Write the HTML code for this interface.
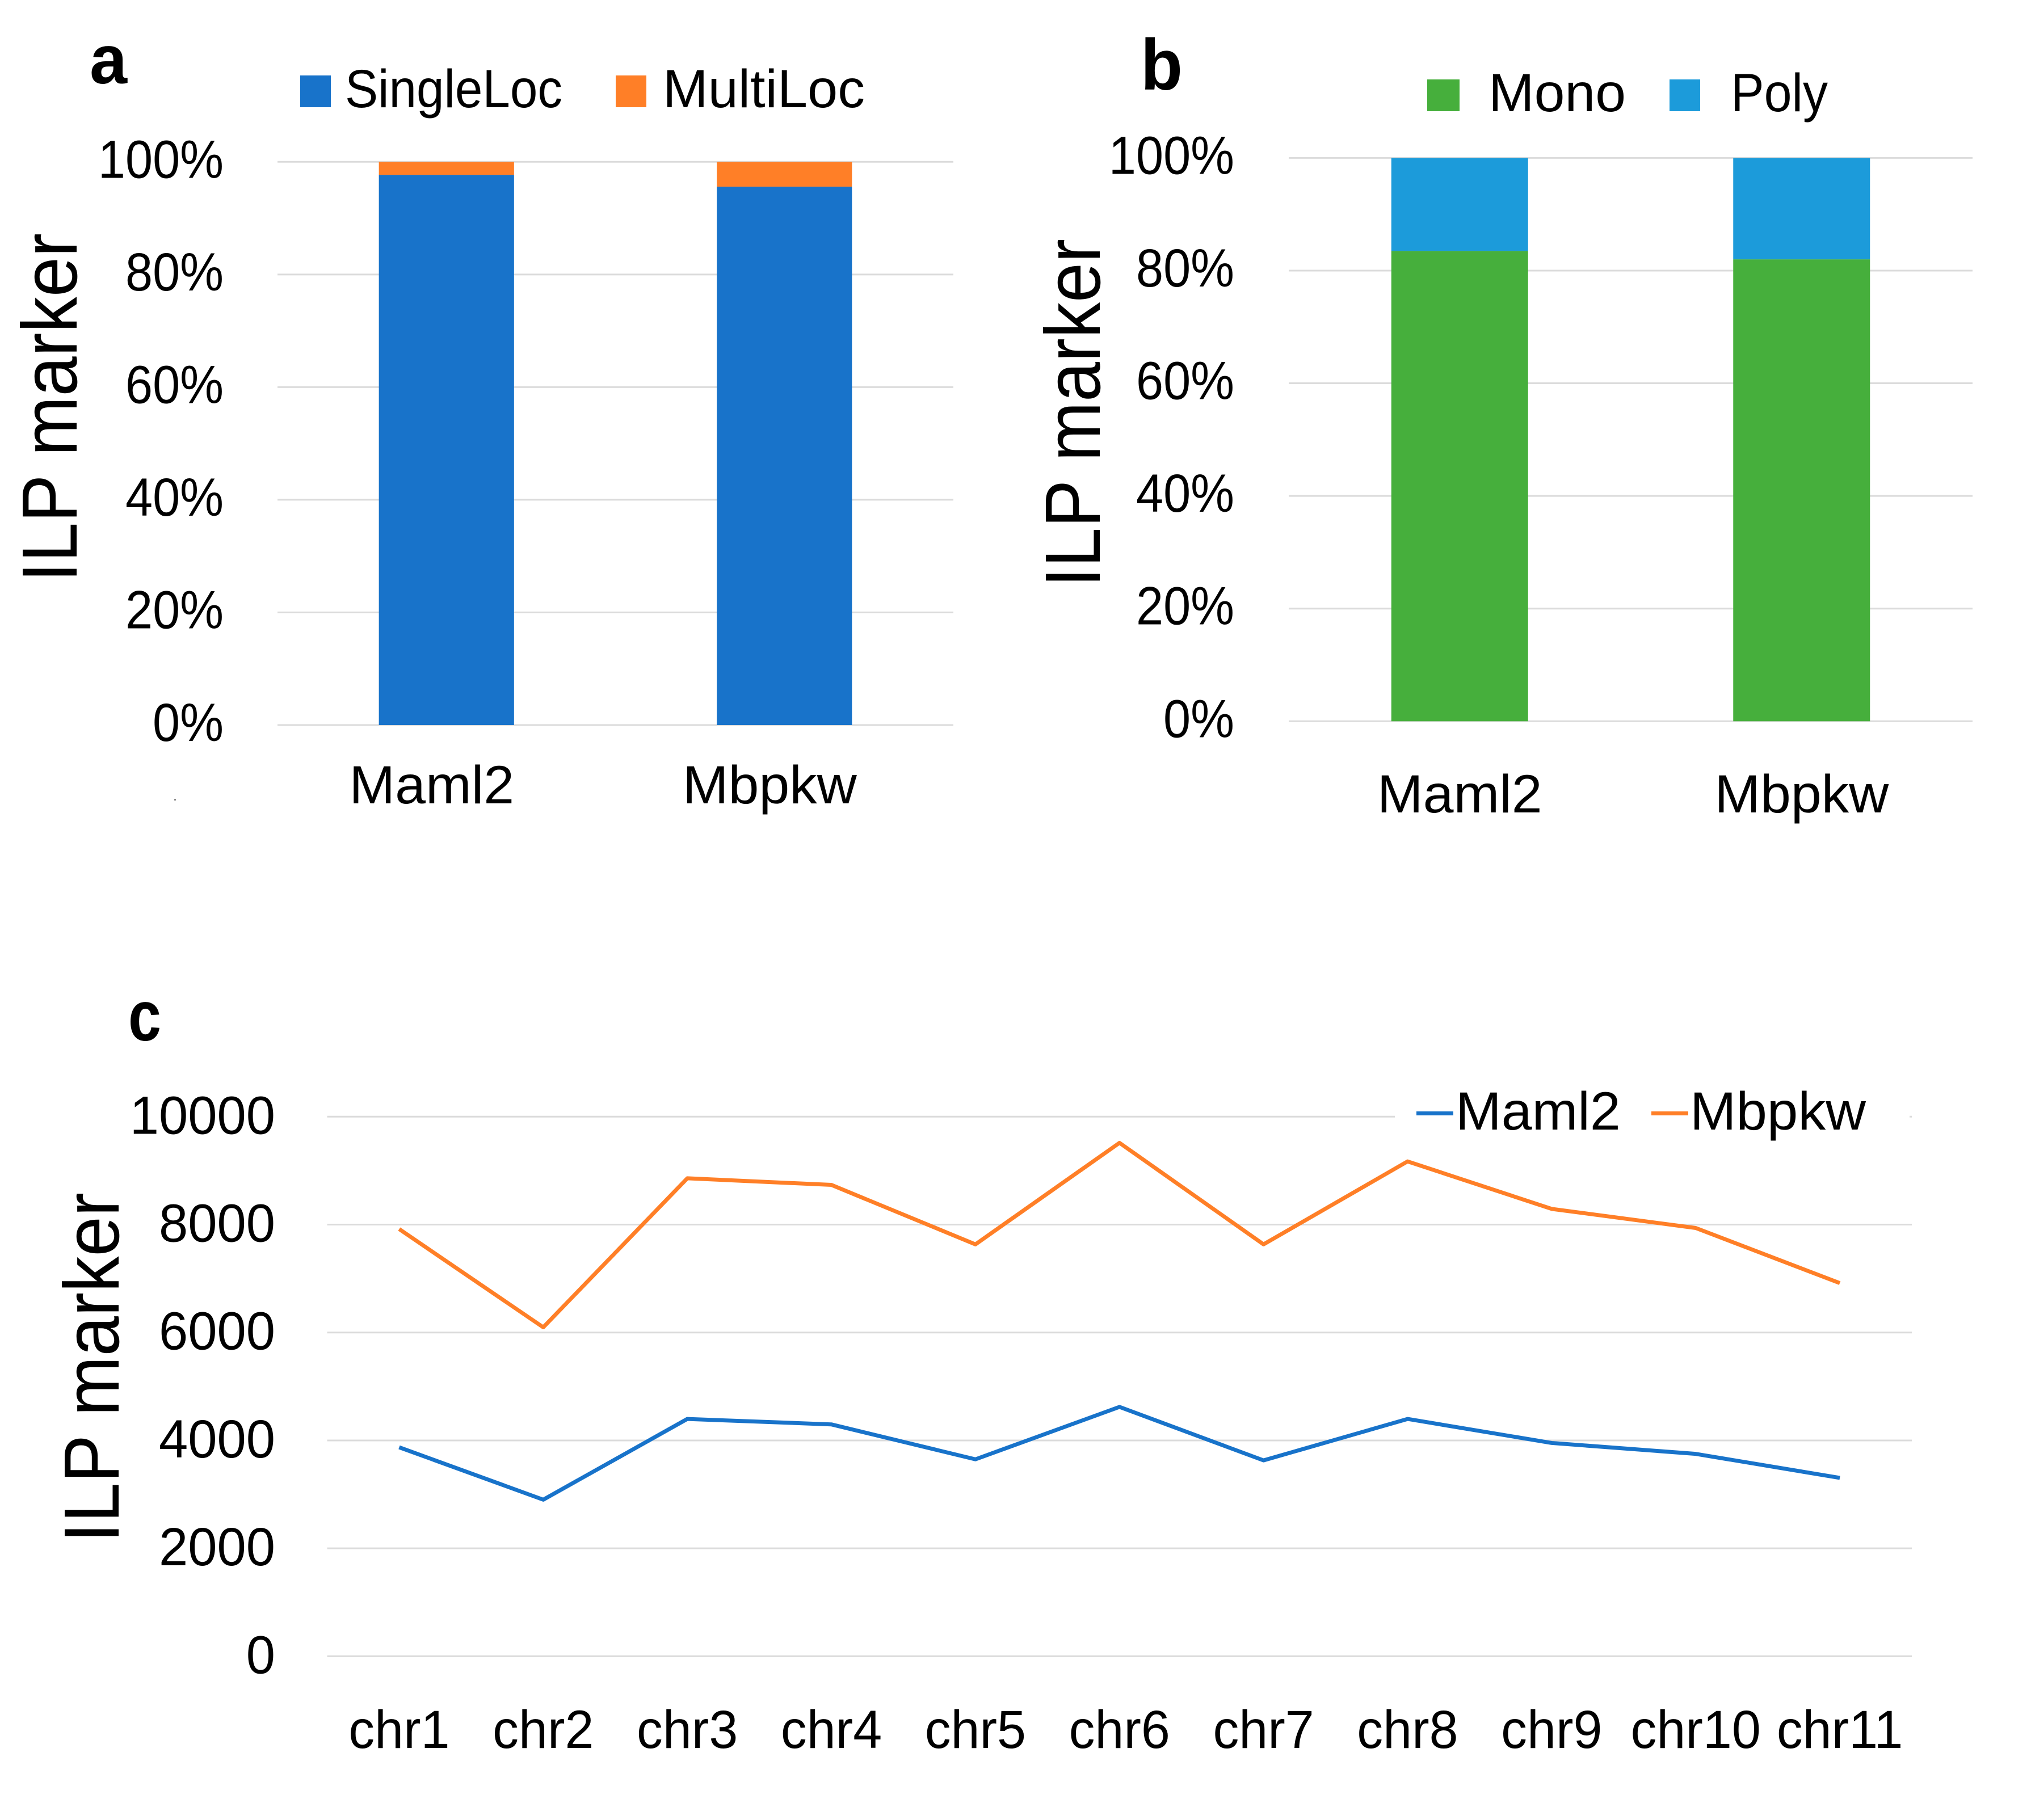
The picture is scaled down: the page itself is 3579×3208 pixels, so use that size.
<!DOCTYPE html>
<html lang="en">
<head>
<meta charset="utf-8">
<title>ILP marker charts</title>
<style>
html,body{margin:0;padding:0;background:#fff;}
svg{display:block;}
text{font-family:"Liberation Sans",sans-serif;fill:#000;}
</style>
</head>
<body>
<svg id="figure" xmlns="http://www.w3.org/2000/svg" width="3579" height="3208" viewBox="0 0 3579 3208">
  <rect x="0" y="0" width="3579" height="3208" fill="#ffffff"/>

  <g id="panel-a"></g>
  <g id="panel-b"></g>
  <g id="panel-c"></g>

  <g font-weight="700">
    <text x="158" y="147" font-size="122" textLength="66" lengthAdjust="spacingAndGlyphs">a</text>
    <text x="2010" y="158" font-size="127" textLength="74" lengthAdjust="spacingAndGlyphs">b</text>
    <text x="226" y="1834" font-size="125" textLength="58" lengthAdjust="spacingAndGlyphs">c</text>
  </g>

  <g font-size="138">
    <text transform="translate(135,1026) rotate(-90)" textLength="615" lengthAdjust="spacingAndGlyphs">ILP marker</text>
    <text transform="translate(1938,1035) rotate(-90)" textLength="614" lengthAdjust="spacingAndGlyphs">ILP marker</text>
    <text transform="translate(209,2719) rotate(-90)" textLength="617" lengthAdjust="spacingAndGlyphs">ILP marker</text>
  </g>

  <g font-size="95">
    <rect x="529" y="133" width="54" height="56" fill="#1873CA"/>
    <text x="608" y="189" textLength="383" lengthAdjust="spacingAndGlyphs">SingleLoc</text>
    <rect x="1085" y="133" width="54" height="56" fill="#FF7F27"/>
    <text x="1168" y="189" textLength="356" lengthAdjust="spacingAndGlyphs">MultiLoc</text>
  </g>

  <g font-size="95">
    <rect x="2515" y="140" width="57" height="56" fill="#46AF3C"/>
    <text x="2623" y="196" textLength="242" lengthAdjust="spacingAndGlyphs">Mono</text>
    <rect x="2942" y="140" width="54" height="56" fill="#1C9BDA"/>
    <text x="3050" y="196" textLength="171" lengthAdjust="spacingAndGlyphs">Poly</text>
  </g>

  <g id="legend-c" font-size="95"></g>

  <rect x="307" y="1408" width="3" height="3" fill="#888888"/>
</svg>

<script>
// Panel a data
const categoriesA = ['Maml2', 'Mbpkw'];
const singleLoc = [97.7, 95.6];
const multiLoc = [2.3, 4.4];
const percentTicks = [0, 20, 40, 60, 80, 100];

// Panel b data
const categoriesB = ['Maml2', 'Mbpkw'];
const mono = [83.5, 82.0];
const poly = [16.5, 18.0];

// Panel c data
const chromosomes = ['chr1', 'chr2', 'chr3', 'chr4', 'chr5', 'chr6', 'chr7', 'chr8', 'chr9', 'chr10', 'chr11'];
const maml2 = [3873, 2902, 4398, 4297, 3650, 4621, 3630, 4398, 3953, 3751, 3306];
const mbpkw = [7917, 6097, 8858, 8736, 7634, 9515, 7634, 9171, 8291, 7937, 6916];
const countTicks = [0, 2000, 4000, 6000, 8000, 10000];

const NS = 'http://www.w3.org/2000/svg';
const GRID = '#DBDBDB';

function shape(parent, tag, attrs) {
  const el = document.createElementNS(NS, tag);
  for (const k in attrs) el.setAttribute(k, attrs[k]);
  parent.appendChild(el);
  return el;
}

function label(parent, str, x, y, size, sx, anchor) {
  const el = document.createElementNS(NS, 'text');
  el.setAttribute('transform', 'translate(' + x + ',' + y + ') scale(' + sx + ',1)');
  el.setAttribute('font-size', size);
  el.setAttribute('text-anchor', anchor);
  el.textContent = str;
  parent.appendChild(el);
  return el;
}

function linearY(top, bottom, max) {
  return function (v) { return bottom - (v / max) * (bottom - top); };
}

function bandX(left, right, n) {
  const step = (right - left) / n;
  return function (i) { return left + step * (i + 0.5); };
}

function drawStacked(cfg) {
  const g = document.getElementById(cfg.id);
  const y = linearY(cfg.top, cfg.bottom, 100);
  const x = bandX(cfg.left, cfg.right, cfg.categories.length);
  const step = (cfg.right - cfg.left) / cfg.categories.length;
  const barW = step * 0.4;

  percentTicks.forEach(function (t) {
    const line = shape(g, 'line', { x1: cfg.left, x2: cfg.right, y1: y(t), y2: y(t), stroke: GRID, 'stroke-width': 3 });
    
    
    const tick = label(g, t + '%', cfg.tickRight, y(t) + 28, 95, 0.91, 'end');
    
    
  });

  cfg.categories.forEach(function (c, i) {
    const lower = cfg.lower[i];
    const upper = cfg.upper[i];
    const a = shape(g, 'rect', { x: x(i) - barW / 2, width: barW, y: y(lower), height: y(0) - y(lower), fill: cfg.lowerColor });
    
    
    const b = shape(g, 'rect', { x: x(i) - barW / 2, width: barW, y: y(lower + upper), height: y(lower) - y(lower + upper), fill: cfg.upperColor });
    
    
    const t = label(g, c, x(i) + cfg.labelShift, cfg.labelY, 95, 1.02, 'middle');
    
    
  });
}

drawStacked({
  id: 'panel-a', left: 489, right: 1680, top: 285.3, bottom: 1278,
  tickRight: 394, labelY: 1416, labelShift: -26,
  categories: categoriesA, lower: singleLoc, upper: multiLoc,
  lowerColor: '#1873CA', upperColor: '#FF7F27',
  lowerName: 'singleloc', upperName: 'multiloc'
});

drawStacked({
  id: 'panel-b', left: 2271, right: 3476, top: 278.4, bottom: 1271.3,
  tickRight: 2175, labelY: 1432, labelShift: 0,
  categories: categoriesB, lower: mono, upper: poly,
  lowerColor: '#46AF3C', upperColor: '#1C9BDA',
  lowerName: 'mono', upperName: 'poly'
});

// Panel c
(function () {
  const g = document.getElementById('panel-c');
  const left = 576.5, right = 3369, top = 1968.3, bottom = 2919.4;
  const y = linearY(top, bottom, 10000);
  const x = bandX(left, right, chromosomes.length);

  countTicks.forEach(function (t) {
    const line = shape(g, 'line', { x1: left, x2: right, y1: y(t), y2: y(t), stroke: GRID, 'stroke-width': 3 });
    
    
    const tick = label(g, String(t), 485, y(t) + 30, 95, 0.97, 'end');
    
    
  });

  chromosomes.forEach(function (c, i) {
    const t = label(g, c, x(i), 3081, 95, 0.965, 'middle');
    
    
  });

  // Legend backing masks the top gridline, as in the source chart
  const legend = document.getElementById('legend-c');
  const mask = shape(legend, 'rect', { x: 2458, y: 1945, width: 907, height: 60, fill: '#ffffff' });
  
  

  function series(values, color, name) {
    const pts = values.map(function (v, i) { return x(i) + ',' + y(v); }).join(' ');
    const line = shape(g, 'polyline', { points: pts, fill: 'none', stroke: color, 'stroke-width': 7, 'stroke-linejoin': 'round' });
    
    
  }
  series(maml2, '#1873CA', 'maml2');
  series(mbpkw, '#FF7F27', 'mbpkw');

  const k1 = shape(legend, 'line', { x1: 2496, x2: 2561, y1: 1962.5, y2: 1962.5, stroke: '#1873CA', 'stroke-width': 7 });
  
  
  const t1 = label(legend, 'Maml2', 2565, 1991, 95, 1.02, 'start');
  
  
  const k2 = shape(legend, 'line', { x1: 2910, x2: 2975, y1: 1962.5, y2: 1962.5, stroke: '#FF7F27', 'stroke-width': 7 });
  
  
  const t2 = label(legend, 'Mbpkw', 2978, 1991, 95, 1.03, 'start');
  
  
})();
</script>
</body>
</html>
